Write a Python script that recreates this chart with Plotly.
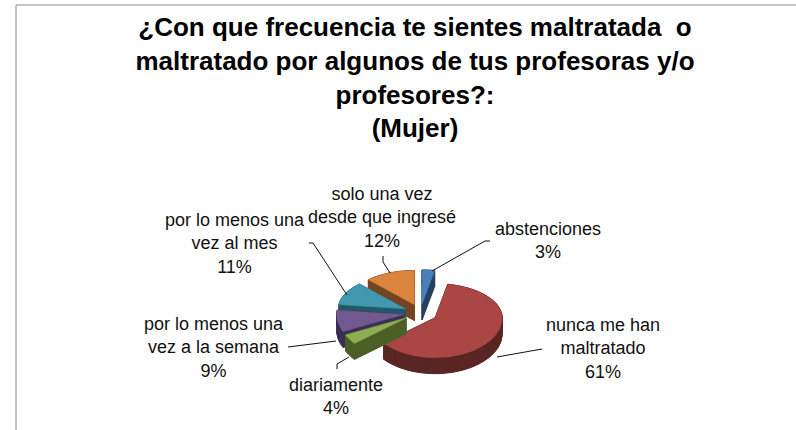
import math
import plotly.graph_objects as go

categories = ["abstenciones", "nunca me han<br>maltratado", "diariamente",
              "por lo menos una<br>vez a la semana", "por lo menos una<br>vez al mes",
              "solo una vez<br>desde que ingresé"]
values = [3, 61, 4, 9, 11, 12]
top_colors = ["#4A7EBB", "#AA4643", "#8DAE50", "#71588F", "#4198AF", "#DB843D"]
side_colors = ["#254061", "#5A2624", "#4C5F26", "#3C2F55", "#215968", "#754420"]
title_text = ("¿Con que frecuencia te sientes maltratada  o<br>"
              "maltratado por algunos de tus profesoras y/o<br>profesores?:<br>(Mujer)")

W, H = 796, 430
CX, CY, RX, RY_BACK, RY_FRONT, DEPTH, PULL = 420.5, 313, 67, 34, 40, 16, 17
RATIO = 36 / RX

label_pos = [(548, 240), (603, 348), (336, 396), (214, 347), (235, 243), (382, 217)]
leaders = ["M432,271 L485,241 L490,241", "M497,357 L542,349", "M349,357 L337,364 L337,369",
           "M336,341 L288,347", "M347,295 L313,243 L309,243", "M390,273 L383,262 L383,256"]

total = sum(values)
slices, start = [], 0.0
for v, top, side in zip(values, top_colors, side_colors):
    sweep = 360.0 * v / total
    mid = math.radians(start + sweep / 2)
    ax = CX + PULL * math.sin(mid)
    ay = CY - PULL * math.cos(mid) * RATIO
    n = max(4, int(sweep / 3))
    arc = []
    for i in range(n + 1):
        a = math.radians(start + sweep * i / n)
        c = math.cos(a)
        arc.append((ax + RX * math.sin(a), ay - (RY_BACK if c > 0 else RY_FRONT) * c))
    slices.append(dict(poly=[(ax, ay)] + arc, top=top, side=side, key=ay))
    start += sweep

fig = go.Figure()
for s, name in sorted(zip(slices, categories), key=lambda t: t[0]["key"]):
    poly = s["poly"]
    xs, ys = [], []
    m = len(poly)
    for i in range(m):
        p, q = poly[i], poly[(i + 1) % m]
        quad = [p, q, (q[0], q[1] + DEPTH), (p[0], p[1] + DEPTH)]
        area = sum(quad[k][0] * quad[(k + 1) % 4][1] - quad[(k + 1) % 4][0] * quad[k][1] for k in range(4))
        if area < 0:
            quad.reverse()
        xs += [pt[0] for pt in quad] + [quad[0][0], None]
        ys += [pt[1] for pt in quad] + [quad[0][1], None]
    fig.add_trace(go.Scatter(x=xs, y=ys, mode="lines", fill="toself", fillcolor=s["side"],
                             line=dict(color=s["side"], width=1), hoverinfo="skip", showlegend=False))
    fig.add_trace(go.Scatter(x=[p[0] for p in poly] + [poly[0][0]], y=[p[1] for p in poly] + [poly[0][1]],
                             mode="lines", fill="toself", fillcolor=s["top"],
                             line=dict(color=s["top"], width=0.5), name=name.replace("<br>", " "),
                             showlegend=False))

shapes = [dict(type="path", path=p, xref="x", yref="y", line=dict(color="#111111", width=1), layer="above")
          for p in leaders]
shapes += [dict(type="line", x0=16, x1=796, y0=5, y1=5, xref="x", yref="y", line=dict(color="#8a8a8a", width=1.2)),
           dict(type="line", x0=16, x1=16, y0=5, y1=430, xref="x", yref="y", line=dict(color="#8a8a8a", width=1))]

annotations = [dict(x=x, y=y, xref="x", yref="y", text=f"{c}<br>{v}%", showarrow=False,
                    font=dict(family="Liberation Sans", size=18, color="#111111"), align="center")
               for (x, y), c, v in zip(label_pos, categories, values)]

fig.update_layout(
    width=W, height=H, margin=dict(l=0, r=0, t=0, b=0), autosize=False,
    paper_bgcolor="white", plot_bgcolor="white", showlegend=False,
    xaxis=dict(range=[0, W], visible=False, fixedrange=True),
    yaxis=dict(range=[H, 0], visible=False, fixedrange=True),
    title=dict(text=title_text, x=415 / W, xanchor="center", y=1 - 36 / H, yanchor="middle",
               font=dict(family="Liberation Sans", size=26, color="#000000", weight="bold")),
    shapes=shapes, annotations=annotations,
)
fig.write_html("out.html", config=dict(displayModeBar=False),
               post_script="document.body.style.margin='0';")
